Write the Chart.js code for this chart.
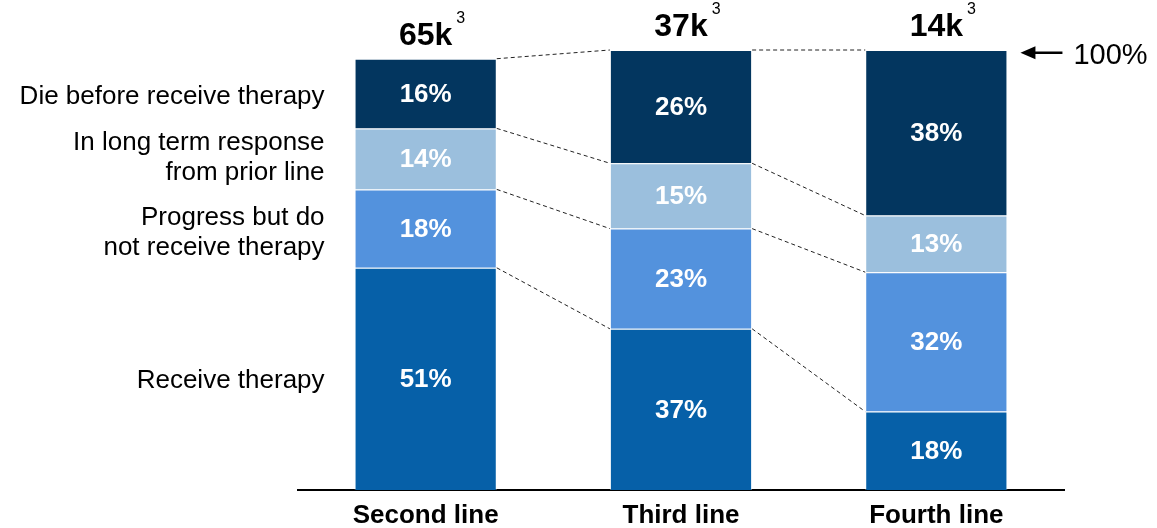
<!DOCTYPE html>
<html>
<head>
<meta charset="utf-8">
<script src="https://cdn.jsdelivr.net/npm/chart.js@4.4.1/dist/chart.umd.min.js"></script>
<style>
  html, body { margin: 0; padding: 0; background: #fff; }
  #wrap { width: 1157px; height: 528px; position: relative; }
</style>
</head>
<body>
<div id="wrap"><canvas id="flowChart"></canvas></div>
<script>
const lines = ['Second line', 'Third line', 'Fourth line'];
const patients = ['65k', '37k', '14k'];
const footnote = '3';

// share of patients per line, bottom segment first
const receiveTherapy = [51, 37, 18];
const progressNoTherapy = [18, 23, 32];
const longTermResponse = [14, 15, 13];
const dieBefore = [16, 26, 38];

const segmentNames = [
  ['Receive therapy'],
  ['Progress but do', 'not receive therapy'],
  ['In long term response', 'from prior line'],
  ['Die before receive therapy']
];
const segmentColors = ['#0660a8', '#5392dd', '#9bbfdd', '#03365f'];
const fullMark = 100;

const FONT = '"Liberation Sans", Arial, sans-serif';
// small vertical nudges so the two-line names don't crowd each other
const nameNudge = [2, 4, -1, 3];

const flowPlugin = {
  id: 'flow',
  afterDatasetsDraw(chart) {
    const ctx = chart.ctx;
    const yScale = chart.scales.y;
    const metas = chart.data.datasets.map((d, i) => chart.getDatasetMeta(i));
    ctx.save();

    // dashed connectors between the segment tops of neighbouring bars
    ctx.strokeStyle = '#222';
    ctx.lineWidth = 1;
    ctx.setLineDash([4, 3]);
    metas.forEach(meta => {
      for (let i = 0; i < meta.data.length - 1; i++) {
        const a = meta.data[i], b = meta.data[i + 1];
        ctx.beginPath();
        ctx.moveTo(a.x + a.width / 2, a.y);
        ctx.lineTo(b.x - b.width / 2, b.y);
        ctx.stroke();
      }
    });
    ctx.setLineDash([]);

    // percentages inside the segments
    ctx.fillStyle = '#fff';
    ctx.font = 'bold 26px ' + FONT;
    ctx.textAlign = 'center';
    ctx.textBaseline = 'middle';
    metas.forEach((meta, di) => {
      meta.data.forEach((bar, i) => {
        const v = chart.data.datasets[di].data[i];
        ctx.fillText(v + '%', bar.x, (bar.y + bar.base) / 2 + 1);
      });
    });

    // patient counts above each bar
    ctx.fillStyle = '#000';
    const topMeta = metas[metas.length - 1];
    topMeta.data.forEach((bar, i) => {
      ctx.font = 'bold 32px ' + FONT;
      ctx.textAlign = 'center';
      ctx.fillText(patients[i], bar.x, bar.y - 23);
      const w = ctx.measureText(patients[i]).width;
      ctx.font = '16px ' + FONT;
      ctx.textAlign = 'left';
      ctx.fillText(footnote, bar.x + w / 2 + 4, bar.y - 40);
    });

    // segment names to the left of the first bar
    ctx.font = '26px ' + FONT;
    ctx.textAlign = 'right';
    metas.forEach((meta, di) => {
      const bar = meta.data[0];
      const mid = (bar.y + bar.base) / 2 + nameNudge[di];
      const names = segmentNames[di];
      const x = bar.x - bar.width / 2 - 30;
      names.forEach((t, k) => {
        ctx.fillText(t, x, mid + (k - (names.length - 1) / 2) * 30);
      });
    });

    // 100% marker with arrow
    const last = topMeta.data[topMeta.data.length - 1];
    const ay = yScale.getPixelForValue(fullMark) - 1.5;
    const x0 = last.x + last.width / 2 + 13;
    ctx.lineWidth = 2.5;
    ctx.strokeStyle = '#000';
    ctx.beginPath();
    ctx.moveTo(x0 + 10, ay);
    ctx.lineTo(x0 + 42, ay);
    ctx.stroke();
    ctx.beginPath();
    ctx.moveTo(x0, ay);
    ctx.lineTo(x0 + 15, ay - 6.5);
    ctx.lineTo(x0 + 15, ay + 6.5);
    ctx.closePath();
    ctx.fill();
    ctx.font = '29px ' + FONT;
    ctx.textAlign = 'left';
    ctx.fillText(fullMark + '%', x0 + 53, ay + 3);

    ctx.restore();
  }
};

const series = [receiveTherapy, progressNoTherapy, longTermResponse, dieBefore];

new Chart(document.getElementById('flowChart'), {
  type: 'bar',
  data: {
    labels: lines,
    datasets: series.map((values, i) => ({
      label: segmentNames[i].join(' '),
      data: values,
      backgroundColor: segmentColors[i],
      borderColor: 'rgba(255,255,255,0.45)',
      borderWidth: 1,
      barPercentage: 0.557,
      categoryPercentage: 1
    }))
  },
  options: {
    responsive: true,
    maintainAspectRatio: false,
    animation: false,
    layout: { padding: { left: 298, right: 93, top: 50, bottom: 0 } },
    plugins: { legend: { display: false }, tooltip: { enabled: false } },
    scales: {
      x: {
        stacked: true,
        grid: { display: false },
        border: { color: '#000', width: 2 },
        ticks: { color: '#000', font: { family: FONT, size: 26, weight: 'bold' }, padding: 2 },
        afterFit(scale) { scale.height = 38; }
      },
      y: { stacked: true, display: false, min: 0, max: 101 }
    }
  },
  plugins: [flowPlugin]
});
</script>
</body>
</html>
